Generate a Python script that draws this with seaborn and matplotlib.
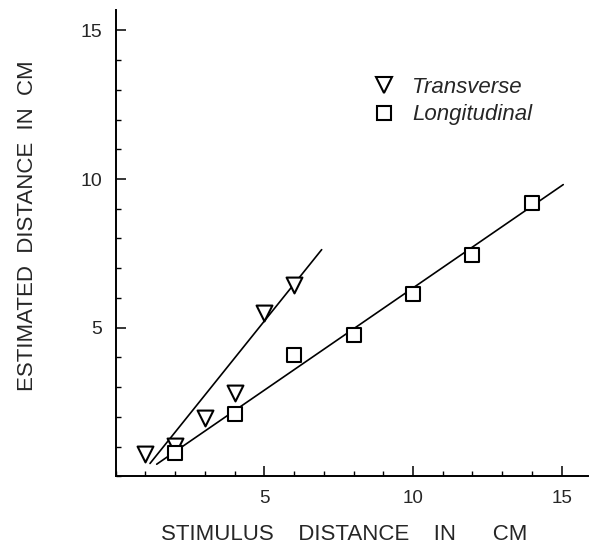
import numpy as np
import pandas as pd
import matplotlib
matplotlib.use("Agg")
import matplotlib.pyplot as plt
from matplotlib.lines import Line2D
from matplotlib.ticker import MultipleLocator
import seaborn as sns

# ---- data ----
transverse_x = [1, 2, 3, 4, 5, 6]
transverse_y = [0.74, 1.02, 1.97, 2.80, 5.51, 6.42]
longitudinal_x = [2, 4, 6, 8, 10, 12, 14]
longitudinal_y = [0.79, 2.11, 4.08, 4.77, 6.13, 7.45, 9.19]

conditions = ["Transverse", "Longitudinal"]
fit_slope = [1.246, 0.688]
fit_intercept = [-1.01, -0.543]
fit_x_range = [(1.16, 6.93), (1.385, 15.05)]

x_ticks_major = [5, 10, 15]
y_ticks_major = [5, 10, 15]

sns.set_style("ticks")
plt.rcParams["font.family"] = ["Liberation Sans", "DejaVu Sans"]

df = pd.DataFrame({
    "x": transverse_x + longitudinal_x,
    "y": transverse_y + longitudinal_y,
    "condition": ["Transverse"] * len(transverse_x) + ["Longitudinal"] * len(longitudinal_x),
})

fit_rows = []
for cond, m, b, (x0, x1) in zip(conditions, fit_slope, fit_intercept, fit_x_range):
    for xv in (x0, x1):
        fit_rows.append({"x": xv, "y": b + m * xv, "condition": cond})
fit_df = pd.DataFrame(fit_rows)

fig = plt.figure(figsize=(5.92, 5.47), dpi=100)
ax = fig.add_axes([115.5 / 592, 1 - 476.4 / 547, (588 - 115.5) / 592, (476.4 - 10) / 547])

sns.lineplot(data=fit_df, x="x", y="y", units="condition", estimator=None,
             color="black", linewidth=1.2, ax=ax, legend=False, sort=False)

marker_map = {"Transverse": "v", "Longitudinal": "s"}
size_map = {"Transverse": 130, "Longitudinal": 100}
for cond in conditions:
    sub = df[df["condition"] == cond]
    sns.scatterplot(data=sub, x="x", y="y", marker=marker_map[cond], s=size_map[cond],
                    facecolor="white", edgecolor="black", linewidth=1.5, ax=ax,
                    legend=False, zorder=3)

ax.set_xlim(0, (588 - 115.5) / 29.75)
ax.set_ylim(0, (476.4 - 10) / 29.74)
ax.set_xticks(x_ticks_major)
ax.set_yticks(y_ticks_major)
ax.xaxis.set_minor_locator(MultipleLocator(1))
ax.yaxis.set_minor_locator(MultipleLocator(1))
ax.set_xticklabels([str(v) for v in x_ticks_major])
ax.set_yticklabels([str(v) for v in y_ticks_major])
ax.tick_params(which="major", direction="in", length=7, width=1.1, labelsize=14, color="black")
ax.tick_params(which="minor", direction="in", length=3.5, width=1.0, color="black")
ax.tick_params(axis="x", which="major", pad=9.7, labelsize=13.5)
ax.tick_params(axis="y", which="major", pad=9.5, labelsize=14)

for side in ("top", "right"):
    ax.spines[side].set_visible(False)
for side in ("left", "bottom"):
    ax.spines[side].set_linewidth(1.4)
    ax.spines[side].set_color("black")

ax.set_xlabel("STIMULUS    DISTANCE    IN      CM", fontsize=16, va="center")
ax.set_ylabel("ESTIMATED  DISTANCE  IN  CM", fontsize=16, va="center")
ax.xaxis.set_label_coords((344 - 115.5) / 472.5, (476.4 - 535) / 466.4)
ax.yaxis.set_label_coords((28 - 115.5) / 472.5, (476.4 - 226) / 466.4)

handles = [
    Line2D([], [], marker="v", linestyle="none", markersize=11.5, markerfacecolor="white",
           markeredgecolor="black", markeredgewidth=1.5),
    Line2D([], [], marker="s", linestyle="none", markersize=10, markerfacecolor="white",
           markeredgecolor="black", markeredgewidth=1.5),
]
ax.legend(handles, conditions, loc="upper left", frameon=False,
          bbox_to_anchor=(373 / 592, 1 - 77 / 547), bbox_transform=fig.transFigure,
          borderpad=0, borderaxespad=0, handlelength=1.0, handletextpad=0.76,
          labelspacing=0.29, prop={"style": "italic", "size": 16})

fig.savefig("out.png", dpi=100)
